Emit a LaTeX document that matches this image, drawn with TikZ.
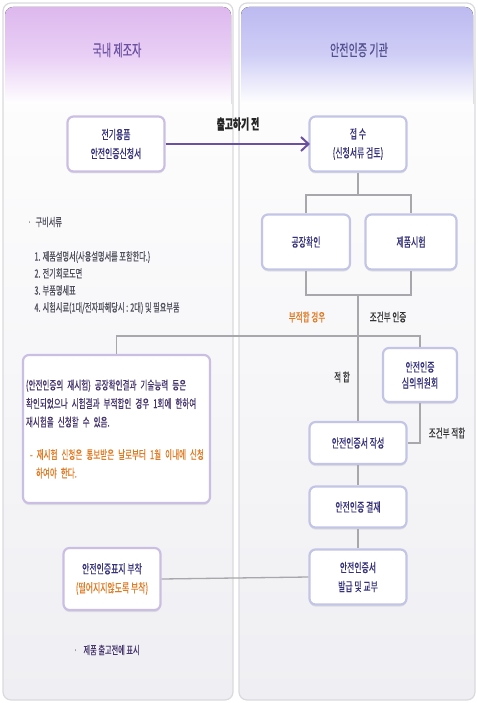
\documentclass[tikz,border=0pt]{standalone}
\usepackage{fontspec}
\setmainfont{Noto Sans CJK KR}[FakeStretch=0.63, FakeBold=0.5]
\usetikzlibrary{shadows}
\definecolor{panelline}{HTML}{DADADE}
\definecolor{panelbot}{HTML}{EFEFF3}
\definecolor{hdrlilac}{HTML}{DDB8EE}
\definecolor{hdrlilacmid}{HTML}{E9CFF5}
\definecolor{hdrblue}{HTML}{BCBAF0}
\definecolor{hdrbluemid}{HTML}{D0CEF6}
\definecolor{boxline}{HTML}{C3C5E6}
\definecolor{boxlineL}{HTML}{CABFE2}
\definecolor{boxtext}{HTML}{35327A}
\definecolor{notetext}{HTML}{45356C}
\definecolor{listtext}{HTML}{50505C}
\definecolor{flowline}{HTML}{6A50A0}
\definecolor{linkline}{HTML}{A8A8AC}
\definecolor{warn}{HTML}{E07A22}

\begin{document}
\begin{tikzpicture}[x=1pt, y=-1pt,
    panel/.style={draw=panelline, line width=1.2pt, rounded corners=8pt, top color=white, bottom color=panelbot},
    box/.style={draw=boxline, line width=2.2pt, rounded corners=6pt, fill=white, align=center, text=boxtext,
        font=\fontsize{12.5}{19}\selectfont, inner sep=2pt,
        drop shadow={opacity=0.18, shadow xshift=0pt, shadow yshift=-2pt}},
    boxL/.style={box, draw=boxlineL},
    link/.style={draw=linkline, line width=1.3pt},
    flow/.style={draw=flowline, line width=2.6pt},
    lbl/.style={font=\fontsize{12}{14}\selectfont, text=black!80}]
    \useasboundingbox (0,0) rectangle (478,703);

    % two columns
    \draw[panel] (3,3) rectangle (233,700);
    \draw[panel] (239,3) rectangle (475,700);
    \fill[top color=hdrlilac, bottom color=white, middle color=hdrlilacmid] (5,104) {[rounded corners=8pt] -- (5,7) -- (231,7)} -- (231,104) -- cycle;
    \fill[top color=hdrblue, bottom color=white, middle color=hdrbluemid] (241,104) {[rounded corners=8pt] -- (241,7) -- (473,7)} -- (473,104) -- cycle;
    \node[font=\fontsize{16}{18}\selectfont, text=flowline] (hdrL) at (117,50) {국내 제조자};
    \node[font=\fontsize{16}{18}\selectfont, text=boxtext!85] (hdrR) at (359,50) {안전인증 기관};

    % manufacturer side
    \node[boxL, minimum width=97pt, minimum height=55pt] (apply) at (116,144) {전기용품\\안전인증신청서};
    \node[anchor=west, text=listtext, font=\fontsize{11.4}{13}\selectfont] (docs) at (24,222) {{\color{listtext!60}·}\hspace{4pt}구비서류};
    \node[anchor=west, align=left, text=listtext, font=\fontsize{11.4}{17}\selectfont] (doclist) at (31,282.5)
        {1. 제품설명서(사용설명서를 포함한다.)\\2. 전기회로도면\\3. 부품명세표\\4. 시험시료(1대/전자파해당시 : 2대) 및 필요부품};
    \node[boxL, minimum width=187pt, minimum height=148pt, text width=181pt, align=left, text=notetext,
        font=\fontsize{12}{18.5}\selectfont] (note) at (116.5,429)
        {(안전인증의 재시험) 공장확인결과 기술능력 등은\\
         확인되었으나 시험결과 부적합인 경우 1회에 한하여\\
         재시험을 신청할 수 있음.\\[14pt]
         {\color{warn}\hspace{4pt}- 재시험 신청은 통보받은 날로부터 1월 이내에 신청}\\
         {\color{warn}\hspace{10pt}하여야 한다.}};
    \node[boxL, minimum width=97pt, minimum height=62pt] (mark) at (112,579) {안전인증표지 부착\\{\color{warn}(떨어지지않도록 부착)}};
    \node[anchor=west, text=notetext, font=\fontsize{11.4}{13}\selectfont] (before) at (70,650) {{\color{listtext!60}·}\hspace{6pt}제품 출고전에 표시};

    % certification body side
    \node[box, minimum width=97pt, minimum height=55pt] (receipt) at (358,144) {접 수\\(신청서류 검토)};
    \node[box, minimum width=88pt, minimum height=55pt] (factory) at (306,242) {공장확인};
    \node[box, minimum width=91pt, minimum height=55pt] (test) at (411,242) {제품시험};
    \node[box, minimum width=74pt, minimum height=54pt, font=\fontsize{12.5}{16}\selectfont] (council) at (420,375) {안전인증\\심의위원회};
    \node[box, minimum width=97pt, minimum height=42pt] (prep) at (358,443) {안전인증서 작성};
    \node[box, minimum width=97pt, minimum height=41pt] (approve) at (358,507) {안전인증 결재};
    \node[box, minimum width=97pt, minimum height=55pt] (issue) at (358,577) {안전인증서\\발급 및 교부};

    \coordinate (split) at (358,195);
    \coordinate (merge) at (358,295);
    \coordinate (fork) at (358,336);

    \draw[link] (receipt.south) -- (split);
    \draw[link] (factory.north) |- (split) -| (test.north);
    \draw[link] (factory.south) |- (merge) -| (test.south);
    \draw[link] (merge) -- (prep.north);
    \draw[link] (note.north) |- (fork) -| (council.north);
    \draw[link] (council.south) |- (prep.east);
    \draw[link] (prep.south) -- (approve.north);
    \draw[link] (approve.south) -- (issue.north);
    \draw[link] (issue.west) -- (mark.east);

    \node[lbl, text=warn] (nofit) at (307,317) {부적합 경우};
    \node[lbl] (condcert) at (388,317) {조건부 인증};
    \node[lbl] (fit) at (342,377) {적 합};
    \node[lbl] (condfit) at (447,433) {조건부 적합};

    % shipment arrow
    \draw[flow] (apply.east) -- (receipt.west);
    \draw[flow, line width=2pt] (301,137) -- (308.5,144) -- (301,151);% Arrow
    \node[font=\bfseries\fontsize{14}{16}\selectfont, text=black!85] (ship) at (238,124) {출고하기 전};
\end{tikzpicture}
\end{document}
